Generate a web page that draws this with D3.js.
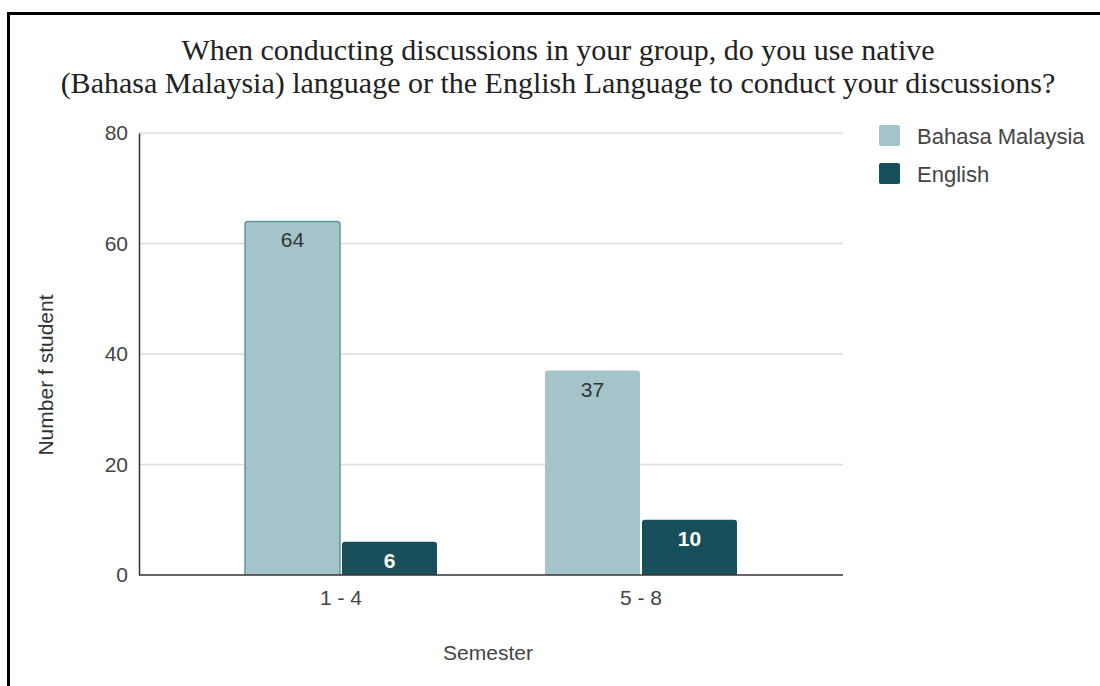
<!DOCTYPE html>
<html>
<head>
<meta charset="utf-8">
<script src="https://cdn.jsdelivr.net/npm/d3@7"></script>
<style>
  body { margin: 0; background: #fff; }
  svg text { font-family: Arial, "Liberation Sans", sans-serif; }
</style>
</head>
<body>
<div id="chart"></div>
<script>
//Data
var categories = ["1 - 4", "5 - 8"];
var seriesNames = ["Bahasa Malaysia", "English"];
var bahasaValues = [64, 37];
var englishValues = [6, 10];
var yTicks = [0, 20, 40, 60, 80];
var titleLines = [
  "When conducting discussions in your group, do you use native",
  "(Bahasa Malaysia) language or the English Language to conduct your discussions?"
];
var colors = ["#a4c4c9", "#174f5b"];

//Width and height
var w = 1100;
var h = 686;

var svg = d3.select("#chart")
  .append("svg")
  .attr("width", w)
  .attr("height", h);

//Frame
svg.append("path")
  .attr("d", "M8.5,686 V13.5 H1100")
  .attr("fill", "none")
  .attr("stroke", "#000")
  .attr("stroke-width", 3);

//Title
svg.selectAll("text.title")
  .data(titleLines)
  .enter()
  .append("text")
  .attr("class", "title")
  .attr("x", 558)
  .attr("y", function(d, i){ return 60 + i * 33; })
  .attr("text-anchor", "middle")
  .style("font-family", "'Liberation Serif', 'Times New Roman', serif")
  .style("font-size", "30px")
  .attr("fill", "#222")
  .text(function(d){ return d; });

//Scales
var x0 = d3.scaleBand()
  .domain(categories)
  .range([191, 791])
  .paddingInner(0.36)
  .paddingOuter(0.18);

var x1 = d3.scaleBand()
  .domain(seriesNames)
  .range([0, x0.bandwidth()])
  .paddingInner(0.02);

var yScale = d3.scaleLinear()
  .domain([0, 80])
  .range([575, 133]);

//Gridlines
svg.append("g")
  .selectAll("line")
  .data(yTicks.filter(function(d){ return d > 0; }))
  .enter()
  .append("line")
  .attr("x1", 139)
  .attr("x2", 843)
  .attr("y1", function(d){ return yScale(d); })
  .attr("y2", function(d){ return yScale(d); })
  .attr("stroke", "#dcdcdc")
  .attr("stroke-width", 1.5);

//Y axis
var yAxis = d3.axisLeft(yScale)
  .tickValues(yTicks)
  .tickSize(0)
  .tickPadding(11);

var yG = svg.append("g")
  .attr("transform", "translate(139,0)")
  .call(yAxis);
yG.select(".domain").attr("stroke", "#333").attr("stroke-width", 1.5);
yG.selectAll("text")
  .style("font-family", "Arial, 'Liberation Sans', sans-serif")
  .style("font-size", "21px")
  .attr("fill", "#444");

//Bars
var rows = categories.map(function(c, i){
  return { cat: c, values: [bahasaValues[i], englishValues[i]] };
});

var groups = svg.selectAll("g.group")
  .data(rows)
  .enter()
  .append("g")
  .attr("class", "group")
  .attr("transform", function(d){ return "translate(" + x0(d.cat) + ",0)"; });

var bars = groups.selectAll("g.bar")
  .data(function(d){
    return d.values.map(function(v, j){ return { cat: d.cat, key: seriesNames[j], j: j, value: v }; });
  })
  .enter()
  .append("g")
  .attr("class", "bar");

bars.append("rect")
  .attr("x", function(d){ return x1(d.key); })
  .attr("y", function(d){ return yScale(d.value); })
  .attr("width", x1.bandwidth())
  .attr("height", function(d){ return yScale(0) - yScale(d.value) + 4; })
  .attr("rx", 3)
  .attr("fill", function(d){ return colors[d.j]; })
  .attr("stroke", function(d){ return (d.j === 0 && d.cat === categories[0]) ? "#5f98a2" : "none"; })
  .attr("stroke-width", 1.5);

bars.append("text")
  .attr("x", function(d){ return x1(d.key) + x1.bandwidth() / 2; })
  .attr("y", function(d){ return yScale(d.value) + 26; })
  .attr("text-anchor", "middle")
  .style("font-size", "21px")
  .style("font-weight", function(d){ return d.j === 1 ? "bold" : "normal"; })
  .attr("fill", function(d){ return d.j === 1 ? "#fff" : "#333"; })
  .text(function(d){ return d.value; });

//Cover bottom of rounded rects below baseline
svg.append("rect")
  .attr("x", 139)
  .attr("y", 575)
  .attr("width", 710)
  .attr("height", 8)
  .attr("fill", "#fff");

//X axis
var xAxis = d3.axisBottom(x0)
  .tickSize(0)
  .tickPadding(15);

var xG = svg.append("g")
  .attr("transform", "translate(0,575)")
  .call(xAxis);
xG.select(".domain").attr("d", "M139,0H843").attr("stroke", "#333").attr("stroke-width", 1.5);
xG.selectAll("text")
  .style("font-family", "Arial, 'Liberation Sans', sans-serif")
  .style("font-size", "21px")
  .attr("fill", "#444");

//Axis titles
svg.append("text")
  .attr("x", 488)
  .attr("y", 660)
  .attr("text-anchor", "middle")
  .style("font-size", "21px")
  .attr("fill", "#444")
  .text("Semester");

svg.append("text")
  .attr("transform", "translate(53,375) rotate(-90)")
  .attr("text-anchor", "middle")
  .style("font-size", "21px")
  .attr("fill", "#333")
  .text("Number f student");

//Legend
var legend = svg.selectAll("g.legend")
  .data(seriesNames)
  .enter()
  .append("g")
  .attr("class", "legend")
  .attr("transform", function(d, i){ return "translate(879," + (125 + i * 38) + ")"; });

legend.append("rect")
  .attr("width", 21)
  .attr("height", 21)
  .attr("rx", 2)
  .attr("fill", function(d, i){ return colors[i]; });

legend.append("text")
  .attr("x", 38)
  .attr("y", 19)
  .style("font-size", "22px")
  .attr("fill", "#444")
  .text(function(d){ return d; });
</script>
</body>
</html>
